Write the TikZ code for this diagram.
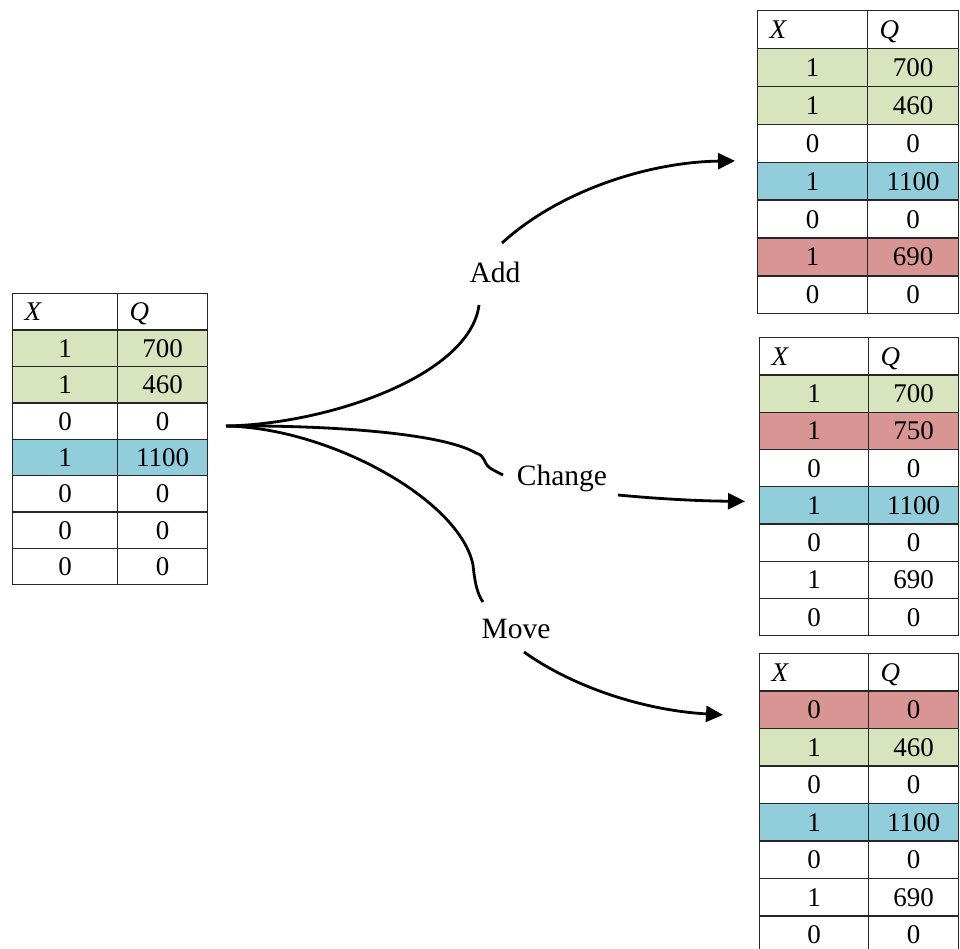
\documentclass[tikz,border=0pt]{standalone}
\usepackage{fontspec}
\setmainfont{Liberation Serif}
\usetikzlibrary{arrows.meta}
\definecolor{gr}{HTML}{D7E4BD}
\definecolor{bl}{HTML}{92CDDC}
\definecolor{rd}{HTML}{D99594}
\definecolor{wh}{HTML}{FFFFFF}
\newcommand{\mktable}[7]{%
  \pgfmathsetmacro\wa{#3-#2}%
  \pgfmathsetmacro\wb{#4-#3}%
  \pgfmathsetmacro\ta{#3-#2-24}%
  \pgfmathsetmacro\tb{#4-#3-24}%
  \node[hdr, minimum width=\wa pt, text width=\ta pt, minimum height=#6pt] (#1-0-1) at (#2,#5) {\textit{X}};
  \node[hdr, minimum width=\wb pt, text width=\tb pt, minimum height=#6pt] (#1-0-2) at (#3,#5) {\textit{Q}};
  \foreach \cc/\a/\b [count=\i] in {#7} {
    \node[cell, fill=\cc, minimum width=\wa pt, minimum height=#6pt] (#1-\i-1) at (#2,{#5+\i*#6}) {\a};
    \node[cell, fill=\cc, minimum width=\wb pt, minimum height=#6pt] (#1-\i-2) at (#3,{#5+\i*#6}) {\b};
  }%
}
\tikzset{
  cellbase/.style={draw=black!85, line width=1.4pt, anchor=north west,
    font=\fontsize{27}{27}\selectfont, text height=18.2pt, text depth=0pt},
  cell/.style={cellbase, inner sep=0pt},
  hdr/.style={cellbase, fill=white, inner ysep=0pt, inner xsep=12pt, align=left},
  lbl/.style={font=\fontsize{29.5}{29.5}\selectfont, inner sep=0pt, anchor=base},
  conn/.style={line width=2.8pt},
  arr/.style={-{Triangle[length=17pt,width=16pt]}}
}
\begin{document}
\begin{tikzpicture}[x=1pt,y=-1pt]
\useasboundingbox (0,0) rectangle (960,948);
\clip (0,0) rectangle (960,948);

\mktable{T0}{12}{117}{207}{293}{36.375}{gr/1/700,gr/1/460,wh/0/0,bl/1/1100,wh/0/0,wh/0/0,wh/0/0}
\mktable{T1}{757}{867}{958}{10}{37.875}{gr/1/700,gr/1/460,wh/0/0,bl/1/1100,wh/0/0,rd/1/690,wh/0/0}
\mktable{T2}{759}{868}{958}{337}{37.25}{gr/1/700,rd/1/750,wh/0/0,bl/1/1100,wh/0/0,wh/1/690,wh/0/0}
\mktable{T3}{759}{868}{958}{653}{37.45}{rd/0/0,gr/1/460,wh/0/0,bl/1/1100,wh/0/0,wh/1/690,wh/0/0}

\coordinate (src) at (226,426);
\node[lbl] (add) at (495,282) {Add};
\node[lbl] (chg) at (562,485) {Change};
\node[lbl] (mov) at (516,638) {Move};

% Add
\draw[conn] (src) .. controls (330,424) and (470,375) .. ([shift={(-16,23)}]add.base);
\draw[conn,arr] ([shift={(7,-39)}]add.base) .. controls (560,190) and (650,162) .. ([shift={(-22,-2)}]T1-3-1.south west);

% Change
\draw[conn] (src) .. controls (320,425) and (440,432) .. (476,453)
  .. controls (486,456) and (483,463) .. (490,468)
  .. controls (495,471) and (499,473) .. ([shift={(-59,-10)}]chg.base);
\draw[conn,arr] ([shift={(56,10)}]chg.base) .. controls (660,499) and (700,501) .. ([shift={(-14,-4)}]T2-4-1.west);

% Move
\draw[conn] (src) .. controls (330,428) and (460,500) .. (473,565)
  .. controls (475,585) and (478,595) .. ([shift={(-33,-36)}]mov.base);
\draw[conn,arr] ([shift={(8,14)}]mov.base) .. controls (570,685) and (640,710) .. ([shift={(-36,5)}]T3-1-1.west);
\end{tikzpicture}
\end{document}
